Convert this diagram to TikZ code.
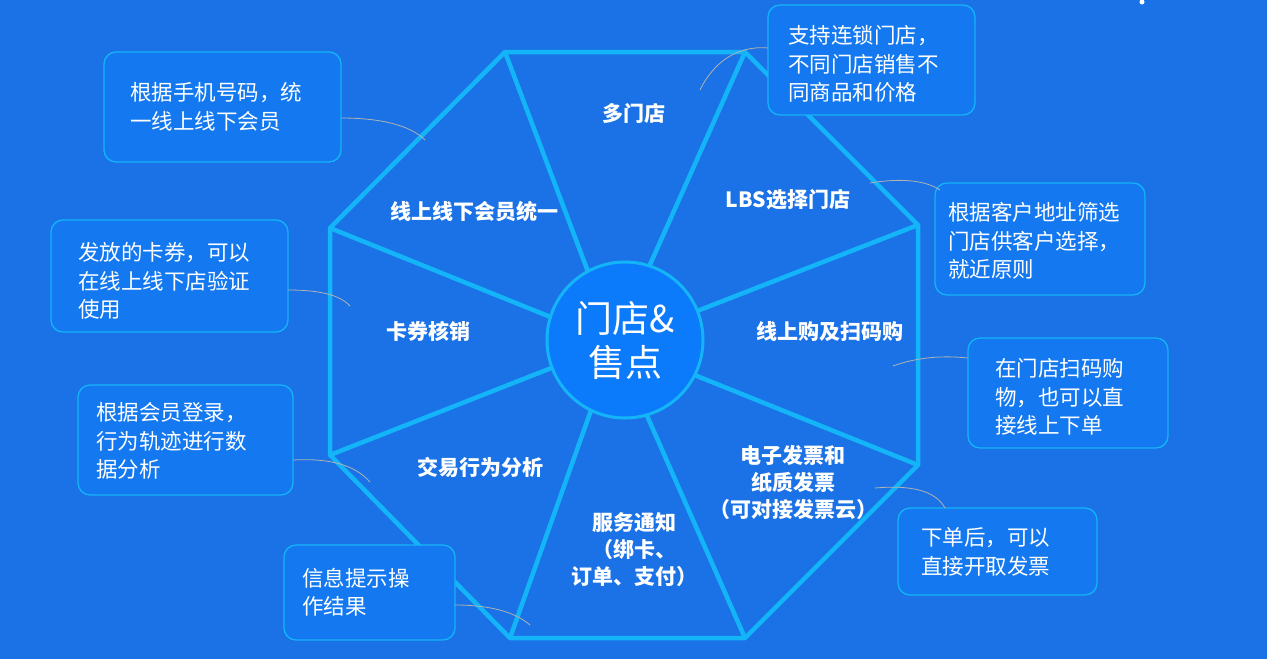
\documentclass[tikz,border=0pt]{standalone}
\usepackage{fontspec}
\setmainfont{Noto Sans CJK SC}
\begin{document}
\begin{tikzpicture}[x=1pt,y=-1pt,
  edge/.style={draw=cy,line width=4.5pt},
  box/.style={draw=cy,line width=1.3pt,fill=boxf,rounded corners=12pt},
  btxt/.style={text=white,align=left,anchor=west,font=\fontsize{21.5}{28.5}\selectfont,inner sep=0pt},
  seg/.style={text=white,align=center,font=\fontsize{21}{27}\selectfont\bfseries},
  lead/.style={draw=gray!60,line width=0.8pt}]
\definecolor{bg}{HTML}{1A72E6}
\definecolor{cy}{HTML}{14B4F8}
\definecolor{boxf}{HTML}{1479F0}
\definecolor{cf}{HTML}{0B7BFC}
\fill[bg] (0,0) rectangle (1267,659);
\useasboundingbox (0,0) rectangle (1267,659);
\fill[white] (1142,2) circle (2.5);
% octagon
\coordinate (v1) at (505,52); \coordinate (v2) at (745,52);
\coordinate (v3) at (918,225); \coordinate (v4) at (918,465);
\coordinate (v5) at (745,638); \coordinate (v6) at (510,638);
\coordinate (v7) at (330,455); \coordinate (v8) at (330,228);
\node[circle,minimum size=156pt,inner sep=0pt] (c) at (615,343) {};
\foreach \v in {v1,v2,v3,v4,v5,v6,v7,v8} \draw[edge] (c.center) -- (\v);
\draw[edge,line join=round] (v1)--(v2)--(v3)--(v4)--(v5)--(v6)--(v7)--(v8)--cycle;
\node[circle,minimum size=156pt,inner sep=0pt,draw=cy,line width=3pt,fill=cf,text=white,align=center,font=\fontsize{37}{44}\selectfont] (cc) at (625,340) {门店\&\\售点};
% segment labels
\node[seg] (s1) at (634,113) {多门店};
\node[seg] (s2) at (788,200) {LBS选择门店};
\node[seg] (s3) at (474,212) {线上线下会员统一};
\node[seg] (s4) at (428,331) {卡券核销};
\node[seg] (s5) at (830,331) {线上购及扫码购};
\node[seg] (s6) at (480,467) {交易行为分析};
\node[seg] (s7) at (793,483) {电子发票和\\纸质发票\\（可对接发票云）};
\node[seg] (s8) at (634,550) {服务通知\\（绑卡、\\订单、支付）};
% boxes
\draw[box] (768,5) rectangle (975,115); \node[btxt] (b1) at (788,64) {支持连锁门店，\\不同门店销售不\\同商品和价格};
\draw[box] (104,52) rectangle (341,162); \node[btxt] (b2) at (130,107) {根据手机号码，统\\一线上线下会员};
\draw[box] (935,183) rectangle (1145,295); \node[btxt] (b3) at (948,241) {根据客户地址筛选\\门店供客户选择，\\就近原则};
\draw[box] (51,220) rectangle (288,332); \node[btxt] (b4) at (78,281) {发放的卡券，可以\\在线上线下店验证\\使用};
\draw[box] (968,338) rectangle (1168,448); \node[btxt] (b5) at (995,397) {在门店扫码购\\物，也可以直\\接线上下单};
\draw[box] (78,385) rectangle (293,495); \node[btxt] (b6) at (96,441) {根据会员登录，\\行为轨迹进行数\\据分析};
\draw[box] (898,508) rectangle (1097,595); \node[btxt] (b7) at (921,552) {下单后，可以\\直接开取发票};
\draw[box] (284,545) rectangle (455,640); \node[btxt] (b8) at (302,592) {信息提示操\\作结果};
% leaders
\coordinate (l1a) at (768,48); \coordinate (l1b) at (700,90);
\draw[lead] (l1a) .. controls (735,45) and (712,65) .. (l1b);
\coordinate (l2a) at (341,118); \coordinate (l2b) at (425,140);
\draw[lead] (l2a) .. controls (380,118) and (410,125) .. (l2b);
\coordinate (l3a) at (940,190); \coordinate (l3b) at (870,183);
\draw[lead] (l3a) .. controls (925,180) and (900,178) .. (l3b);
\coordinate (l4a) at (288,290); \coordinate (l4b) at (350,306);
\draw[lead] (l4a) .. controls (320,290) and (340,295) .. (l4b);
\coordinate (l5a) at (968,358); \coordinate (l5b) at (893,366);
\draw[lead] (l5a) .. controls (940,355) and (915,358) .. (l5b);
\coordinate (l6a) at (293,460); \coordinate (l6b) at (370,482);
\draw[lead] (l6a) .. controls (330,458) and (355,465) .. (l6b);
\coordinate (l7a) at (875,488); \coordinate (l7b) at (945,508);
\draw[lead] (l7a) .. controls (910,485) and (935,490) .. (l7b);
\coordinate (l8a) at (455,605); \coordinate (l8b) at (530,625);
\draw[lead] (l8a) .. controls (490,605) and (515,612) .. (l8b);
\end{tikzpicture}
\end{document}
